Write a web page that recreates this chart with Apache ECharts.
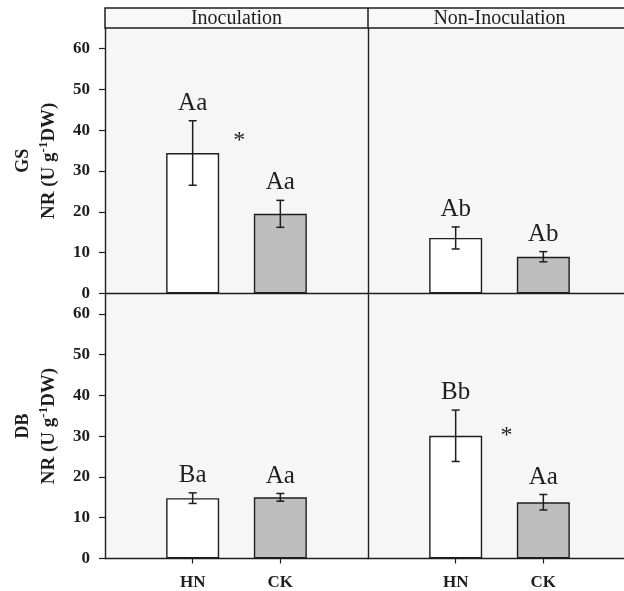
<!DOCTYPE html>
<html>
<head>
<meta charset="utf-8">
<script src="https://cdn.jsdelivr.net/npm/echarts@6/dist/echarts.min.js"></script>
<style>
  html, body { margin: 0; padding: 0; background: #fff; }
  #main { width: 624px; height: 591px; }
</style>
</head>
<body>
<div id="main"></div>
<script>
var categories = ['HN', 'CK'];
var treatments = ['Inoculation', 'Non-Inoculation'];
var sites = ['GS', 'DB'];

// means and standard errors, [Inoculation, Non-Inoculation] x [HN, CK]
var gsMean = [[34.4, 19.5], [13.6, 9.0]];
var gsErr = [[7.9, 3.3], [2.7, 1.25]];
var gsLetters = [['Aa', 'Aa'], ['Ab', 'Ab']];
var gsStar = [37.8, null];

var dbMean = [[14.8, 15.0], [30.1, 13.8]];
var dbErr = [[1.3, 0.95], [6.3, 1.9]];
var dbLetters = [['Ba', 'Aa'], ['Bb', 'Aa']];
var dbStar = [null, 30.6];

var yTicks = [0, 10, 20, 30, 40, 50, 60];

var FONT = '"Liberation Serif", "Times New Roman", serif';
var INK = '#1e1e1e';
var chart = echarts.init(document.getElementById('main'));

var xCats = [''].concat(categories).concat(['']);
var panelW = 263;
var grids = [], xAxes = [], yAxes = [], series = [];

var panels = [
    { mean: gsMean, err: gsErr, letters: gsLetters, star: gsStar },
    { mean: dbMean, err: dbErr, letters: dbLetters, star: dbStar }
];

panels.forEach(function (pn, r) {
    treatments.forEach(function (tr, c) {
        var g = grids.length;
        grids.push({
            left: 105 + c * panelW,
            top: r == 0 ? 28 : 293.5,
            width: panelW,
            height: r == 0 ? 265.5 : 265,
            outerBoundsMode: 'none',
            containLabel: false,
            show: true,
            backgroundColor: '#f6f6f6',
            borderWidth: 0
        });
        xAxes.push({
            gridIndex: g,
            type: 'category',
            data: xCats,
            boundaryGap: false,
            axisLine: { show: true, lineStyle: { color: INK, width: 1.4 } },
            axisTick: {
                show: r == 1,
                length: 5,
                lineStyle: { color: INK, width: 1.2 },
                interval: function (i) { return i == 1 || i == 2; }
            },
            axisLabel: {
                show: r == 1,
                margin: 16,
                color: INK,
                fontFamily: FONT,
                fontWeight: 'bold',
                fontSize: 17
            },
            splitLine: { show: false }
        });
        yAxes.push({
            gridIndex: g,
            type: 'value',
            min: 0,
            max: 65,
            interval: 10,
            axisLine: { show: true, lineStyle: { color: INK, width: 1.4 } },
            axisTick: {
                show: c == 0,
                length: 6,
                lineStyle: { color: INK, width: 1.2 },
                customValues: yTicks
            },
            axisLabel: {
                show: c == 0,
                margin: 15,
                color: INK,
                fontFamily: FONT,
                fontWeight: 'bold',
                fontSize: 17,
                customValues: yTicks
            },
            splitLine: { show: false },
            name: c == 0 ? '{b|' + sites[r] + '}\n{n|NR (U g}{s|-1}{n|DW)}' : '',
            nameLocation: 'middle',
            nameRotate: 90,
            nameGap: 43,
            nameTextStyle: {
                color: INK,
                fontFamily: FONT,
                rich: {
                    b: { fontSize: 18, fontWeight: 'bold', fontFamily: FONT, color: INK, lineHeight: 26 },
                    n: { fontSize: 19, fontWeight: 'bold', fontFamily: FONT, color: INK, lineHeight: 26 },
                    s: { fontSize: 13, fontWeight: 'bold', fontFamily: FONT, color: INK, padding: [0, 0, 11, 0] }
                }
            }
        });

        var means = pn.mean[c];
        var errs = pn.err[c];
        var letters = pn.letters[c];

        series.push({
            type: 'bar',
            xAxisIndex: g,
            yAxisIndex: g,
            barWidth: 53,
            silent: true,
            data: ['-'].concat(means.map(function (v, k) {
                return {
                    value: v,
                    itemStyle: {
                        color: k == 0 ? '#ffffff' : '#bebebe',
                        borderColor: INK,
                        borderWidth: 1.4
                    }
                };
            })).concat(['-'])
        });

        series.push({
            type: 'custom',
            xAxisIndex: g,
            yAxisIndex: g,
            silent: true,
            z: 5,
            data: means.map(function (v, k) { return [k + 1, v - errs[k], v + errs[k]]; }),
            renderItem: function (params, api) {
                var i = api.value(0);
                var hi = api.coord([i, api.value(2)]);
                var lo = api.coord([i, api.value(1)]);
                var line = { stroke: INK, lineWidth: 1.5 };
                return {
                    type: 'group',
                    children: [
                        { type: 'line', shape: { x1: hi[0], y1: hi[1], x2: lo[0], y2: lo[1] }, style: line },
                        { type: 'line', shape: { x1: hi[0] - 4, y1: hi[1], x2: hi[0] + 4, y2: hi[1] }, style: line },
                        { type: 'line', shape: { x1: lo[0] - 4, y1: lo[1], x2: lo[0] + 4, y2: lo[1] }, style: line },
                        {
                            type: 'text',
                            x: hi[0],
                            y: hi[1] - 5,
                            style: {
                                text: letters[params.dataIndex],
                                fill: INK,
                                font: '25px ' + FONT,
                                textAlign: 'center',
                                textVerticalAlign: 'bottom'
                            }
                        }
                    ]
                };
            }
        });

        if (pn.star[c] != null) {
            series.push({
                type: 'custom',
                xAxisIndex: g,
                yAxisIndex: g,
                silent: true,
                z: 5,
                data: [[1, pn.star[c]]],
                renderItem: function (params, api) {
                    var a = api.coord([1, api.value(1)]);
                    var b = api.coord([2, api.value(1)]);
                    return {
                        type: 'text',
                        x: a[0] + (b[0] - a[0]) * (c == 0 ? 0.53 : 0.58),
                        y: a[1] + 2,
                        style: {
                            text: '*',
                            fill: INK,
                            font: '24px ' + FONT,
                            textAlign: 'center',
                            textVerticalAlign: 'middle'
                        }
                    };
                }
            });
        }
    });
});

var option = {
    animation: false,
    backgroundColor: '#ffffff',
    grid: grids,
    xAxis: xAxes,
    yAxis: yAxes,
    series: series,
    graphic: [
        {
            type: 'rect',
            shape: { x: 105, y: 8, width: 2 * panelW, height: 20 },
            style: { fill: '#f8f8f8', stroke: INK, lineWidth: 1.5 },
            z: 10
        },
        {
            type: 'line',
            shape: { x1: 105 + panelW, y1: 8, x2: 105 + panelW, y2: 28 },
            style: { stroke: INK, lineWidth: 1.5 },
            z: 10
        },
        {
            type: 'text',
            x: 105 + panelW / 2,
            y: 19,
            style: {
                text: treatments[0], fill: INK, font: '20px ' + FONT,
                textAlign: 'center', textVerticalAlign: 'middle'
            },
            z: 11
        },
        {
            type: 'text',
            x: 105 + panelW * 1.5,
            y: 19,
            style: {
                text: treatments[1], fill: INK, font: '20px ' + FONT,
                textAlign: 'center', textVerticalAlign: 'middle'
            },
            z: 11
        }
    ]
};

chart.setOption(option);
</script>
</body>
</html>
